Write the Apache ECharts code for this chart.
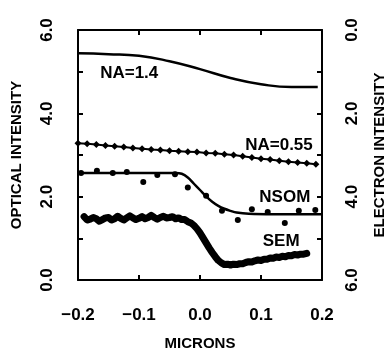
<!DOCTYPE html>
<html>
<head>
<meta charset="utf-8">
<script src="https://cdn.jsdelivr.net/npm/echarts@6/dist/echarts.min.js"></script>
<style>
  html, body { margin: 0; padding: 0; background: #fff; }
  #chart { width: 390px; height: 352px; }
</style>
</head>
<body>
<div id="chart"></div>
<script>
// NA=1.4 optical profile
var na14X = [-0.2, -0.15, -0.1, -0.05, 0, 0.05, 0.1, 0.15, 0.193];
var na14Y = [5.44, 5.42, 5.38, 5.25, 5.06, 4.85, 4.70, 4.63, 4.63];

// NA=0.55 optical profile (diamonds)
var na055X = [-0.2, -0.185, -0.17, -0.155, -0.14, -0.125, -0.11, -0.095, -0.08, -0.065, -0.05, -0.035, -0.02, -0.005,
              0.01, 0.025, 0.04, 0.055, 0.07, 0.085, 0.1, 0.115, 0.13, 0.145, 0.16, 0.175, 0.19];
var na055Y = [3.28, 3.27, 3.25, 3.23, 3.21, 3.19, 3.17, 3.15, 3.13, 3.12, 3.10, 3.09, 3.08, 3.07,
              3.05, 3.04, 3.02, 3.00, 2.97, 2.94, 2.91, 2.89, 2.86, 2.84, 2.82, 2.80, 2.78];

// NSOM fit line + measured points
var nsomX = [-0.2, -0.1, -0.04, -0.03, -0.02, -0.01, 0, 0.01, 0.02, 0.03, 0.04, 0.05, 0.06, 0.08, 0.12, 0.2];
var nsomY = [2.57, 2.57, 2.57, 2.55, 2.46, 2.31, 2.16, 2.01, 1.88, 1.78, 1.71, 1.66, 1.62, 1.59, 1.58, 1.58];
var nsomDotX = [-0.195, -0.169, -0.143, -0.120, -0.093, -0.070, -0.041, -0.020, 0.010, 0.036, 0.062, 0.085, 0.111, 0.139, 0.162, 0.189];
var nsomDotY = [2.57, 2.62, 2.57, 2.59, 2.35, 2.52, 2.54, 2.22, 2.02, 1.66, 1.44, 1.70, 1.63, 1.37, 1.66, 1.68];

// SEM line scan, read against the left scale (drawn on inverted right axis)
var semX = [-0.190, -0.185, -0.180, -0.175, -0.170, -0.165, -0.160, -0.155, -0.150, -0.145, -0.140, -0.135, -0.130,
            -0.125, -0.120, -0.115, -0.110, -0.105, -0.100, -0.095, -0.090, -0.085, -0.080, -0.075, -0.070, -0.065,
            -0.060, -0.055, -0.050, -0.045, -0.040, -0.035, -0.030, -0.025, -0.020, -0.015, -0.010, -0.005, 0.000,
            0.005, 0.010, 0.015, 0.020, 0.025, 0.030, 0.035, 0.040, 0.045, 0.050, 0.055, 0.060, 0.065, 0.070,
            0.075, 0.080, 0.085, 0.090, 0.095, 0.100, 0.105, 0.110, 0.115, 0.120, 0.125, 0.130, 0.135, 0.140,
            0.145, 0.150, 0.155, 0.160, 0.165, 0.170, 0.175];
var semY = [1.52, 1.44, 1.46, 1.50, 1.47, 1.41, 1.45, 1.49, 1.50, 1.44, 1.47, 1.53, 1.48,
            1.44, 1.49, 1.54, 1.49, 1.45, 1.48, 1.52, 1.47, 1.50, 1.55, 1.50, 1.46, 1.50,
            1.53, 1.49, 1.50, 1.52, 1.47, 1.49, 1.45, 1.45, 1.40, 1.37, 1.31, 1.23, 1.13,
            1.01, 0.89, 0.77, 0.66, 0.56, 0.47, 0.41, 0.37, 0.38, 0.36, 0.38, 0.37, 0.39, 0.39,
            0.42, 0.44, 0.43, 0.46, 0.48, 0.47, 0.50, 0.50, 0.53, 0.52, 0.55, 0.54, 0.57, 0.56,
            0.59, 0.58, 0.61, 0.60, 0.62, 0.62, 0.64];

// curve labels (data coords, left axis)
var labelText = ['NA=1.4', 'NA=0.55', 'NSOM', 'SEM'];
var labelX = [-0.116, 0.1295, 0.139, 0.133];
var labelY = [4.97, 3.24, 1.99, 0.94];

function pairs(xs, ys) {
    var out = [];
    for (var i = 0; i < xs.length; i++) {
        out.push([xs[i], ys[i]]);
    }
    return out;
}
function semPairs() {
    var out = [];
    for (var i = 0; i < semX.length; i++) {
        out.push([semX[i], 6 - semY[i]]);
    }
    return out;
}
function fmt(v) {
    var s = Math.abs(v).toFixed(1);
    return v < -1e-9 ? '\u2212' + s : s;
}

var FONT = 'Liberation Sans';
var chart = echarts.init(document.getElementById('chart'));

var axisLineStyle = { show: true, onZero: false, lineStyle: { color: '#000', width: 2 } };
var tickStyle = { show: true, inside: true, length: 5, lineStyle: { color: '#000', width: 2 } };
var nameStyle = { color: '#000', fontFamily: FONT, fontSize: 15, fontWeight: 'bold' };

var option = {
    animation: false,
    backgroundColor: '#fff',
    grid: { left: 78, right: 68, top: 30, bottom: 72, containLabel: false, outerBoundsMode: 'none' },
    xAxis: [
        {
            type: 'value', min: -0.2, max: 0.2, interval: 0.1,
            name: 'MICRONS', nameLocation: 'middle', nameGap: 56, nameTextStyle: nameStyle,
            axisLine: axisLineStyle, axisTick: tickStyle,
            axisLabel: { color: '#000', fontFamily: FONT, fontSize: 17, fontWeight: 'bold', margin: 27, formatter: fmt },
            splitLine: { show: false }
        },
        {
            type: 'value', min: -0.2, max: 0.2, interval: 0.1, position: 'top',
            axisLine: axisLineStyle, axisTick: tickStyle,
            axisLabel: { show: false },
            splitLine: { show: false }
        }
    ],
    yAxis: [
        {
            type: 'value', min: 0, max: 6, interval: 2,
            name: 'OPTICAL INTENSITY', nameLocation: 'middle', nameGap: 54, nameRotate: 90, nameTextStyle: nameStyle,
            axisLine: axisLineStyle, axisTick: tickStyle,
            minorTick: { show: true, splitNumber: 2, length: 5, lineStyle: { color: '#000', width: 2 } },
            axisLabel: { color: '#000', fontFamily: FONT, fontSize: 17, fontWeight: 'bold', rotate: 90, margin: 22, formatter: fmt },
            splitLine: { show: false }
        },
        {
            type: 'value', min: 0, max: 6, interval: 2, inverse: true, position: 'right',
            name: 'ELECTRON INTENSITY', nameLocation: 'middle', nameGap: 50, nameRotate: 90, nameTextStyle: nameStyle,
            axisLine: axisLineStyle, axisTick: tickStyle,
            minorTick: { show: true, splitNumber: 2, length: 5, lineStyle: { color: '#000', width: 2 } },
            axisLabel: { color: '#000', fontFamily: FONT, fontSize: 17, fontWeight: 'bold', rotate: 90, margin: 22, formatter: fmt },
            splitLine: { show: false }
        }
    ],
    series: [
        {
            name: 'NA=1.4', type: 'line', smooth: true, showSymbol: false,
            lineStyle: { color: '#000', width: 2.5 },
            data: pairs(na14X, na14Y)
        },
        {
            name: 'NA=0.55', type: 'line', symbol: 'diamond', symbolSize: 7,
            itemStyle: { color: '#000' },
            lineStyle: { color: '#000', width: 2 },
            data: pairs(na055X, na055Y)
        },
        {
            name: 'NSOM fit', type: 'line', smooth: 0.4, showSymbol: false,
            lineStyle: { color: '#000', width: 2.5 },
            data: pairs(nsomX, nsomY)
        },
        {
            name: 'NSOM', type: 'scatter', symbol: 'circle', symbolSize: 6,
            itemStyle: { color: '#000', opacity: 1 },
            data: pairs(nsomDotX, nsomDotY)
        },
        {
            name: 'SEM', type: 'line', yAxisIndex: 1, showSymbol: false,
            lineStyle: { color: '#000', width: 7, join: 'round', cap: 'round' },
            data: semPairs()
        },
        {
            name: 'labels', type: 'scatter', symbolSize: 0, silent: true,
            itemStyle: { color: '#000', opacity: 1 },
            label: {
                show: true, position: 'inside', color: '#000',
                fontFamily: FONT, fontSize: 17, fontWeight: 'bold',
                formatter: function (p) { return labelText[p.dataIndex]; }
            },
            data: pairs(labelX, labelY)
        }
    ]
};
chart.setOption(option);
</script>
</body>
</html>
